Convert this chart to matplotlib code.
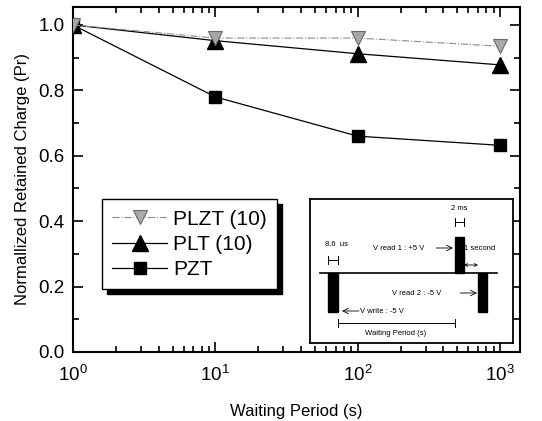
import numpy as np
import matplotlib
matplotlib.use("Agg")
import matplotlib.pyplot as plt
from matplotlib.patches import Rectangle
from matplotlib.ticker import LogLocator, MultipleLocator, NullFormatter

plt.rcParams['font.family'] = ['Liberation Sans', 'DejaVu Sans']
plt.rcParams['mathtext.default'] = 'regular'

# data
period = [1, 10, 100, 1000]
plzt = [1.0, 0.96, 0.96, 0.935]
plt_10 = [1.0, 0.952, 0.912, 0.878]
pzt = [1.0, 0.78, 0.66, 0.632]
labels = ["PLZT (10)", "PLT (10)", "PZT"]

fig = plt.figure(figsize=(5.42, 4.21), dpi=100)
ax = fig.add_axes([0.1347, 0.1639, 0.8247, 0.8195])

l1, = ax.plot(period, plzt, color='#8a8a8a', ls='-.', lw=0.8, marker='v', ms=10,
              mfc='#a8a8a8', mec='#6a6a6a', mew=0.8, label=labels[0], zorder=4)
l2, = ax.plot(period, plt_10, color='black', ls='-', lw=0.9, marker='^', ms=12,
              label=labels[1], zorder=3)
l3, = ax.plot(period, pzt, color='black', ls='-', lw=0.9, marker='s', ms=9,
              label=labels[2], zorder=3)

ax.set_xscale('log')
ax.set_xlim(1, 1380)
ax.set_ylim(0, 1.055)
ax.xaxis.set_major_locator(LogLocator(base=10, numticks=10))
ax.xaxis.set_minor_locator(LogLocator(base=10, subs=np.arange(2, 10), numticks=20))
ax.xaxis.set_minor_formatter(NullFormatter())
ax.yaxis.set_major_locator(MultipleLocator(0.2))
ax.yaxis.set_minor_locator(MultipleLocator(0.1))
ax.tick_params(which='both', direction='in', top=True, right=True, labelsize=13.5, width=1.2)
ax.tick_params(which='major', length=7)
ax.tick_params(which='minor', length=4)
ax.tick_params(axis='x', pad=9)
ax.tick_params(axis='y', pad=6)
for s in ax.spines.values():
    s.set_linewidth(1.5)

ax.set_xlabel("Waiting Period (s)", fontsize=12, labelpad=14)
ax.set_ylabel("Normallized Retained Charge (Pr)", fontsize=12, labelpad=6)

leg = ax.legend(handles=[l1, l2, l3], loc='upper left', bbox_to_anchor=(0.065, 0.443),
                fontsize=15, frameon=True, fancybox=False, edgecolor='black',
                facecolor='white', framealpha=1,
                handlelength=2.6, handletextpad=0.3, labelspacing=0.3,
                borderpad=0.5, borderaxespad=0)
leg.get_frame().set_linewidth(1.0)
leg.set_zorder(6)

fig.canvas.draw()
bb = leg.get_window_extent().transformed(ax.transAxes.inverted())
dx, dy = 5 / (ax.bbox.width), 5 / (ax.bbox.height)
ax.add_patch(Rectangle((bb.x0 + dx, bb.y0 - dy), bb.width, bb.height, transform=ax.transAxes,
                       facecolor='black', edgecolor='black', zorder=5, clip_on=False))

# inset timing diagram, drawn in image pixel coordinates
ins = fig.add_axes([310 / 542, (421 - 343) / 421, 203 / 542, 144 / 421])
ins.set_xlim(310, 513)
ins.set_ylim(343, 199)
ins.set_xticks([])
ins.set_yticks([])
for s in ins.spines.values():
    s.set_linewidth(1.3)
ins.set_zorder(7)

fs = 5.5
ins.plot([320, 497], [273, 273], color='black', lw=1.2)
ins.add_patch(Rectangle((328, 273), 10, 39, color='black'))
ins.add_patch(Rectangle((455, 237), 9, 36, color='black'))
ins.add_patch(Rectangle((478, 273), 9, 39, color='black'))

def dim(x0, x1, y):
    ins.plot([x0, x1], [y, y], color='black', lw=0.7)
    ins.plot([x0, x0], [y - 4, y + 4], color='black', lw=0.7)
    ins.plot([x1, x1], [y - 4, y + 4], color='black', lw=0.7)

dim(328, 338, 260)
dim(455, 464, 222)
dim(338, 455, 323)
ins.text(325, 244, "8.6  us", fontsize=fs, va='center', ha='left')
ins.text(459.5, 208, "2 ms", fontsize=fs, va='center', ha='center')
ins.text(373, 248, "V read 1 : +5 V", fontsize=fs, va='center', ha='left')
ins.annotate("", xy=(453, 248), xytext=(436, 248),
             arrowprops=dict(arrowstyle='->', lw=0.6, color='black', shrinkA=0, shrinkB=0))
ins.text(464, 248, "1 second", fontsize=fs, va='center', ha='left')
ins.annotate("", xy=(478, 265), xytext=(464, 265),
             arrowprops=dict(arrowstyle='<->', lw=0.6, color='black', shrinkA=0, shrinkB=0,
                             mutation_scale=5))
ins.text(392, 293, "V read 2 : -5 V", fontsize=fs, va='center', ha='left')
ins.annotate("", xy=(477, 293), xytext=(460, 293),
             arrowprops=dict(arrowstyle='->', lw=0.6, color='black', shrinkA=0, shrinkB=0))
ins.annotate("", xy=(342, 311), xytext=(359, 311),
             arrowprops=dict(arrowstyle='->', lw=0.6, color='black', shrinkA=0, shrinkB=0))
ins.text(360, 311, "V write : -5 V", fontsize=fs, va='center', ha='left')
ins.text(396, 333, "Waiting Period (s)", fontsize=fs, va='center', ha='center')

fig.savefig("out.png", dpi=100)
